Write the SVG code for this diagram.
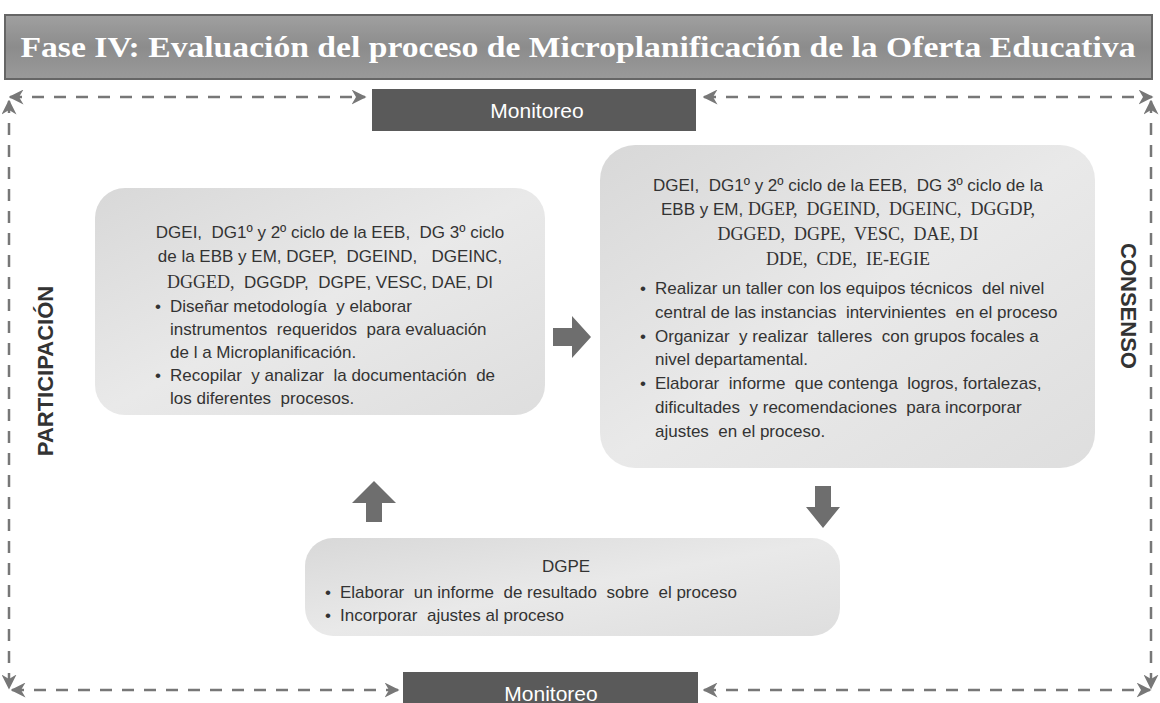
<svg xmlns="http://www.w3.org/2000/svg" width="1160" height="703" viewBox="0 0 1160 703">
<defs>
<linearGradient id="boxg" x1="0" y1="0" x2="1" y2="1">
<stop offset="0" stop-color="#d8d8d8"/>
<stop offset="0.5" stop-color="#e9e9e9"/>
<stop offset="1" stop-color="#dedede"/>
</linearGradient>
<linearGradient id="titleg" x1="0" y1="0" x2="0" y2="1">
<stop offset="0" stop-color="#a0a0a0"/>
<stop offset="0.5" stop-color="#8c8c8c"/>
<stop offset="1" stop-color="#9a9a9a"/>
</linearGradient>
<marker id="ah" viewBox="0 0 10 10" refX="9" refY="5" markerWidth="6" markerHeight="6" orient="auto-start-reverse">
<path d="M0,0 L10,5 L0,10 L3,5 Z" fill="#777"/>
</marker>
<style>
.t{font-family:"Liberation Sans",Arial,sans-serif;font-size:17px;fill:#333;white-space:pre}
.s{font-family:"Liberation Serif","Times New Roman",serif;font-size:18px}
.c{text-anchor:middle}
.box{fill:url(#boxg);stroke:none}
.dash{stroke:#777;stroke-width:2.5;stroke-dasharray:12 10;fill:none}
.mon{fill:#5a5a5a}
.mont{font-family:"Liberation Sans",Arial,sans-serif;font-size:21px;fill:#fff;text-anchor:middle}
.side{font-family:"Liberation Sans",Arial,sans-serif;font-size:22px;font-weight:bold;fill:#333;text-anchor:middle}
.big{fill:#6e6e6e}
</style>
</defs>
<rect width="1160" height="703" fill="#fff"/>

<g id="title">
<rect x="5" y="15" width="1147" height="64" fill="url(#titleg)" stroke="#666" stroke-width="2"/>
<text x="578" y="57" font-family="Liberation Serif,serif" font-weight="bold" font-size="29" fill="#fff" text-anchor="middle" textLength="1115" lengthAdjust="spacingAndGlyphs">Fase IV: Evaluación del proceso de Microplanificación de la Oferta Educativa</text>
</g>

<g id="connectors">
<line class="dash" x1="10" y1="97" x2="365" y2="97" marker-start="url(#ah)" marker-end="url(#ah)"/>
<line class="dash" x1="704" y1="97" x2="1152" y2="97" marker-start="url(#ah)" marker-end="url(#ah)"/>
<line class="dash" x1="9" y1="101" x2="9" y2="688" marker-start="url(#ah)" marker-end="url(#ah)"/>
<line class="dash" x1="1151" y1="101" x2="1151" y2="688" marker-start="url(#ah)" marker-end="url(#ah)"/>
<line class="dash" x1="12" y1="690" x2="398" y2="690" marker-start="url(#ah)" marker-end="url(#ah)"/>
<line class="dash" x1="704" y1="690" x2="1150" y2="690" marker-start="url(#ah)" marker-end="url(#ah)"/>
<path class="big" d="M553,328 H572 V316 L591,337 L572,358 V346 H553 Z"/>
<path class="big" d="M366,522 V503 H352 L374,481 L396,503 H382 V522 Z"/>
<path class="big" d="M815,486 V507 H806 L823,528 L840,507 H831 V486 Z"/>
</g>

<g id="monitoreo-top">
<rect class="mon" x="372" y="89" width="324" height="42"/>
<text class="mont" x="537" y="118">Monitoreo</text>
</g>
<g id="monitoreo-bottom">
<rect class="mon" x="403" y="672" width="295" height="31"/>
<text class="mont" x="551" y="701">Monitoreo</text>
</g>

<g id="participacion">
<text class="side" transform="translate(53,371) rotate(-90)">PARTICIPACIÓN</text>
</g>
<g id="consenso">
<text class="side" transform="translate(1121,306) rotate(90)">CONSENSO</text>
</g>

<g id="box-left">
<rect class="box" x="95" y="188" width="450" height="227" rx="30"/>
<text class="t c" x="330" y="238">DGEI,  DG1º y 2º ciclo de la EEB,  DG 3º ciclo</text>
<text class="t c" x="330" y="262">de la EBB y EM, DGEP,  DGEIND,   DGEINC,</text>
<text class="t c" x="330" y="288"><tspan class="s">DGGED,</tspan>  DGGDP,  DGPE, VESC, DAE, DI</text>
<text class="t" x="155" y="312">•</text>
<text class="t" x="170" y="312">Diseñar metodología  y elaborar</text>
<text class="t" x="170" y="335">instrumentos  requeridos  para evaluación</text>
<text class="t" x="170" y="358">de l a Microplanificación.</text>
<text class="t" x="155" y="381">•</text>
<text class="t" x="170" y="381">Recopilar  y analizar  la documentación  de</text>
<text class="t" x="170" y="404">los diferentes  procesos.</text>
</g>

<g id="box-right">
<rect class="box" x="600" y="145" width="495" height="323" rx="35"/>
<text class="t c" x="848" y="191">DGEI,  DG1º y 2º ciclo de la EEB,  DG 3º ciclo de la</text>
<text class="t c" x="848" y="215">EBB y EM, <tspan class="s">DGEP,  DGEIND,  DGEINC,  DGGDP,</tspan></text>
<text class="t c s" x="848" y="240">DGGED,  DGPE,  VESC,  DAE, DI</text>
<text class="t c s" x="848" y="265">DDE,  CDE,  IE-EGIE</text>
<text class="t" x="640" y="294">•</text>
<text class="t" x="655" y="294">Realizar un taller con los equipos técnicos  del nivel</text>
<text class="t" x="655" y="318">central de las instancias  intervinientes  en el proceso</text>
<text class="t" x="640" y="342">•</text>
<text class="t" x="655" y="342">Organizar  y realizar  talleres  con grupos focales a</text>
<text class="t" x="655" y="365">nivel departamental.</text>
<text class="t" x="640" y="389">•</text>
<text class="t" x="655" y="389">Elaborar  informe  que contenga  logros, fortalezas,</text>
<text class="t" x="655" y="413">dificultades  y recomendaciones  para incorporar</text>
<text class="t" x="655" y="437">ajustes  en el proceso.</text>
</g>

<g id="box-bottom">
<rect class="box" x="305" y="538" width="535" height="98" rx="28"/>
<text class="t c" x="566" y="572">DGPE</text>
<text class="t" x="325" y="598">•</text>
<text class="t" x="340" y="598">Elaborar  un informe  de resultado  sobre  el proceso</text>
<text class="t" x="325" y="621">•</text>
<text class="t" x="340" y="621">Incorporar  ajustes al proceso</text>
</g>
</svg>
